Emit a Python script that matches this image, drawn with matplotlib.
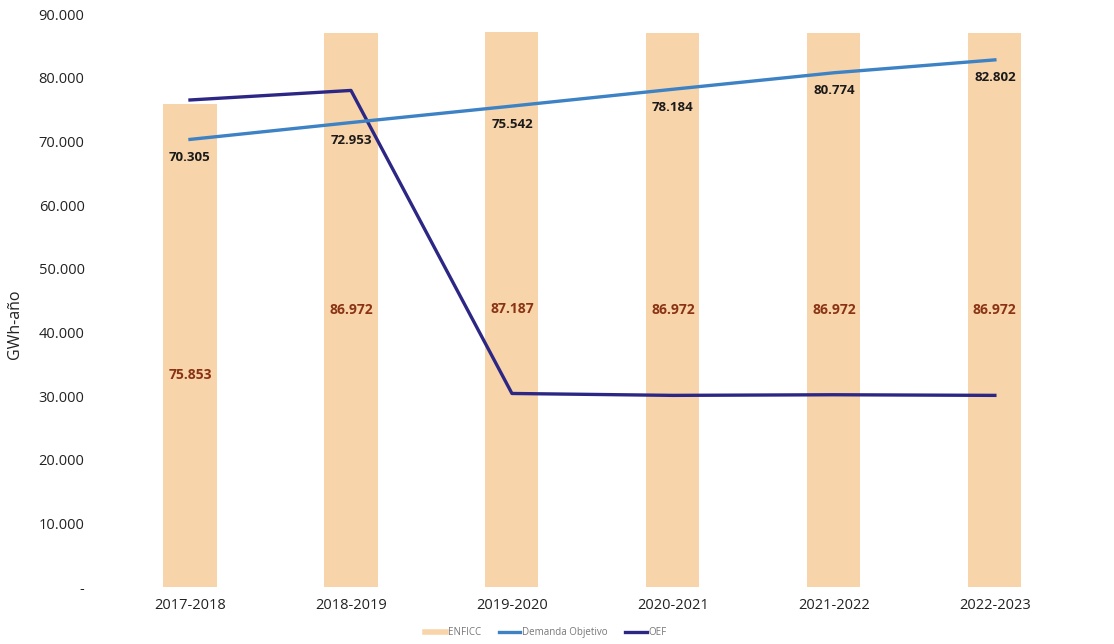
#!/usr/bin/env python3

# %% load libraries
import matplotlib
matplotlib.use('Agg')
import matplotlib.pyplot as plt
from matplotlib.lines import Line2D
from matplotlib.ticker import FuncFormatter
import numpy as np


# %% data (GWh-año)
periods = ['2017-2018', '2018-2019', '2019-2020',
           '2020-2021', '2021-2022', '2022-2023']
enficc = [75853, 86972, 87187, 86972, 86972, 86972]
demanda = [70305, 72953, 75542, 78184, 80774, 82802]
oef = [76500, 78000, 30400, 30100, 30200, 30100]


# %% styling
plt.rcParams['font.family'] = ['Open Sans', 'DejaVu Sans']
c_bar = '#f8d4aa'
c_bar_txt = '#8a3414'
c_dem = '#3d82c4'
c_oef = '#2c2784'


# %% figure
fig = plt.figure(figsize=(11.14, 6.44), dpi=100)
ax = fig.add_axes([0.0983, 0.0885, 0.867, 0.8897])
x = np.arange(len(periods))

# --+ ENFICC bars with centred labels
bars = ax.bar(x, enficc, width=0.33, color=c_bar, zorder=1)
for i, (b, v) in enumerate(zip(bars, enficc)):
    nudge = -21 if i == 0 else 0
    ax.annotate(f'{v:,}'.replace(',', '.'),
                (b.get_x() + b.get_width() / 2, v / 2),
                xytext=(0, nudge), textcoords='offset points',
                ha='center', va='center', fontsize=10, fontweight='bold',
                color=c_bar_txt, zorder=4)

# --+ lines
ax.plot(x, demanda, color=c_dem, lw=2.4, zorder=3)
ax.plot(x, oef, color=c_oef, lw=2.4, zorder=2)
for xi, v in zip(x, demanda):
    ax.annotate(f'{v:,}'.replace(',', '.'), (xi, v),
                xytext=(0, -13), textcoords='offset points',
                ha='center', va='center', fontsize=9.5, fontweight='bold',
                color='#1a1a1a', zorder=4)

# --+ axis properties
ax.set_xlim(-0.5, len(periods) - 0.5)
ax.set_ylim(0, 90000)
ax.set_yticks(np.arange(0, 90001, 10000))
ax.yaxis.set_major_formatter(FuncFormatter(
    lambda v, p: '-' if v == 0 else f'{int(v):,}'.replace(',', '.')))
ax.set_xticks(x)
ax.set_xticklabels(periods)
ax.tick_params(axis='both', length=0, labelsize=10.5, colors='#222222')
ax.tick_params(axis='y', pad=18)
ax.tick_params(axis='x', pad=8)
ax.set_ylabel('GWh-año', fontsize=11.5, color='#222222')
ax.yaxis.set_label_coords(-0.09, 0.458)
for s in ax.spines.values():
    s.set_visible(False)

# --+ legend
handles = [Line2D([], [], color=c_bar, lw=4),
           Line2D([], [], color=c_dem, lw=2.4),
           Line2D([], [], color=c_oef, lw=2.4)]
fig.legend(handles, ['ENFICC', 'Demanda Objetivo', 'OEF'],
           loc='center', bbox_to_anchor=(0.49, 0.018), ncol=3,
           frameon=False, fontsize=7, labelcolor='#777777',
           handlelength=2.2, handletextpad=0.2, columnspacing=1.8)

# --+ save plot
fig.savefig('out.png', dpi=100)
